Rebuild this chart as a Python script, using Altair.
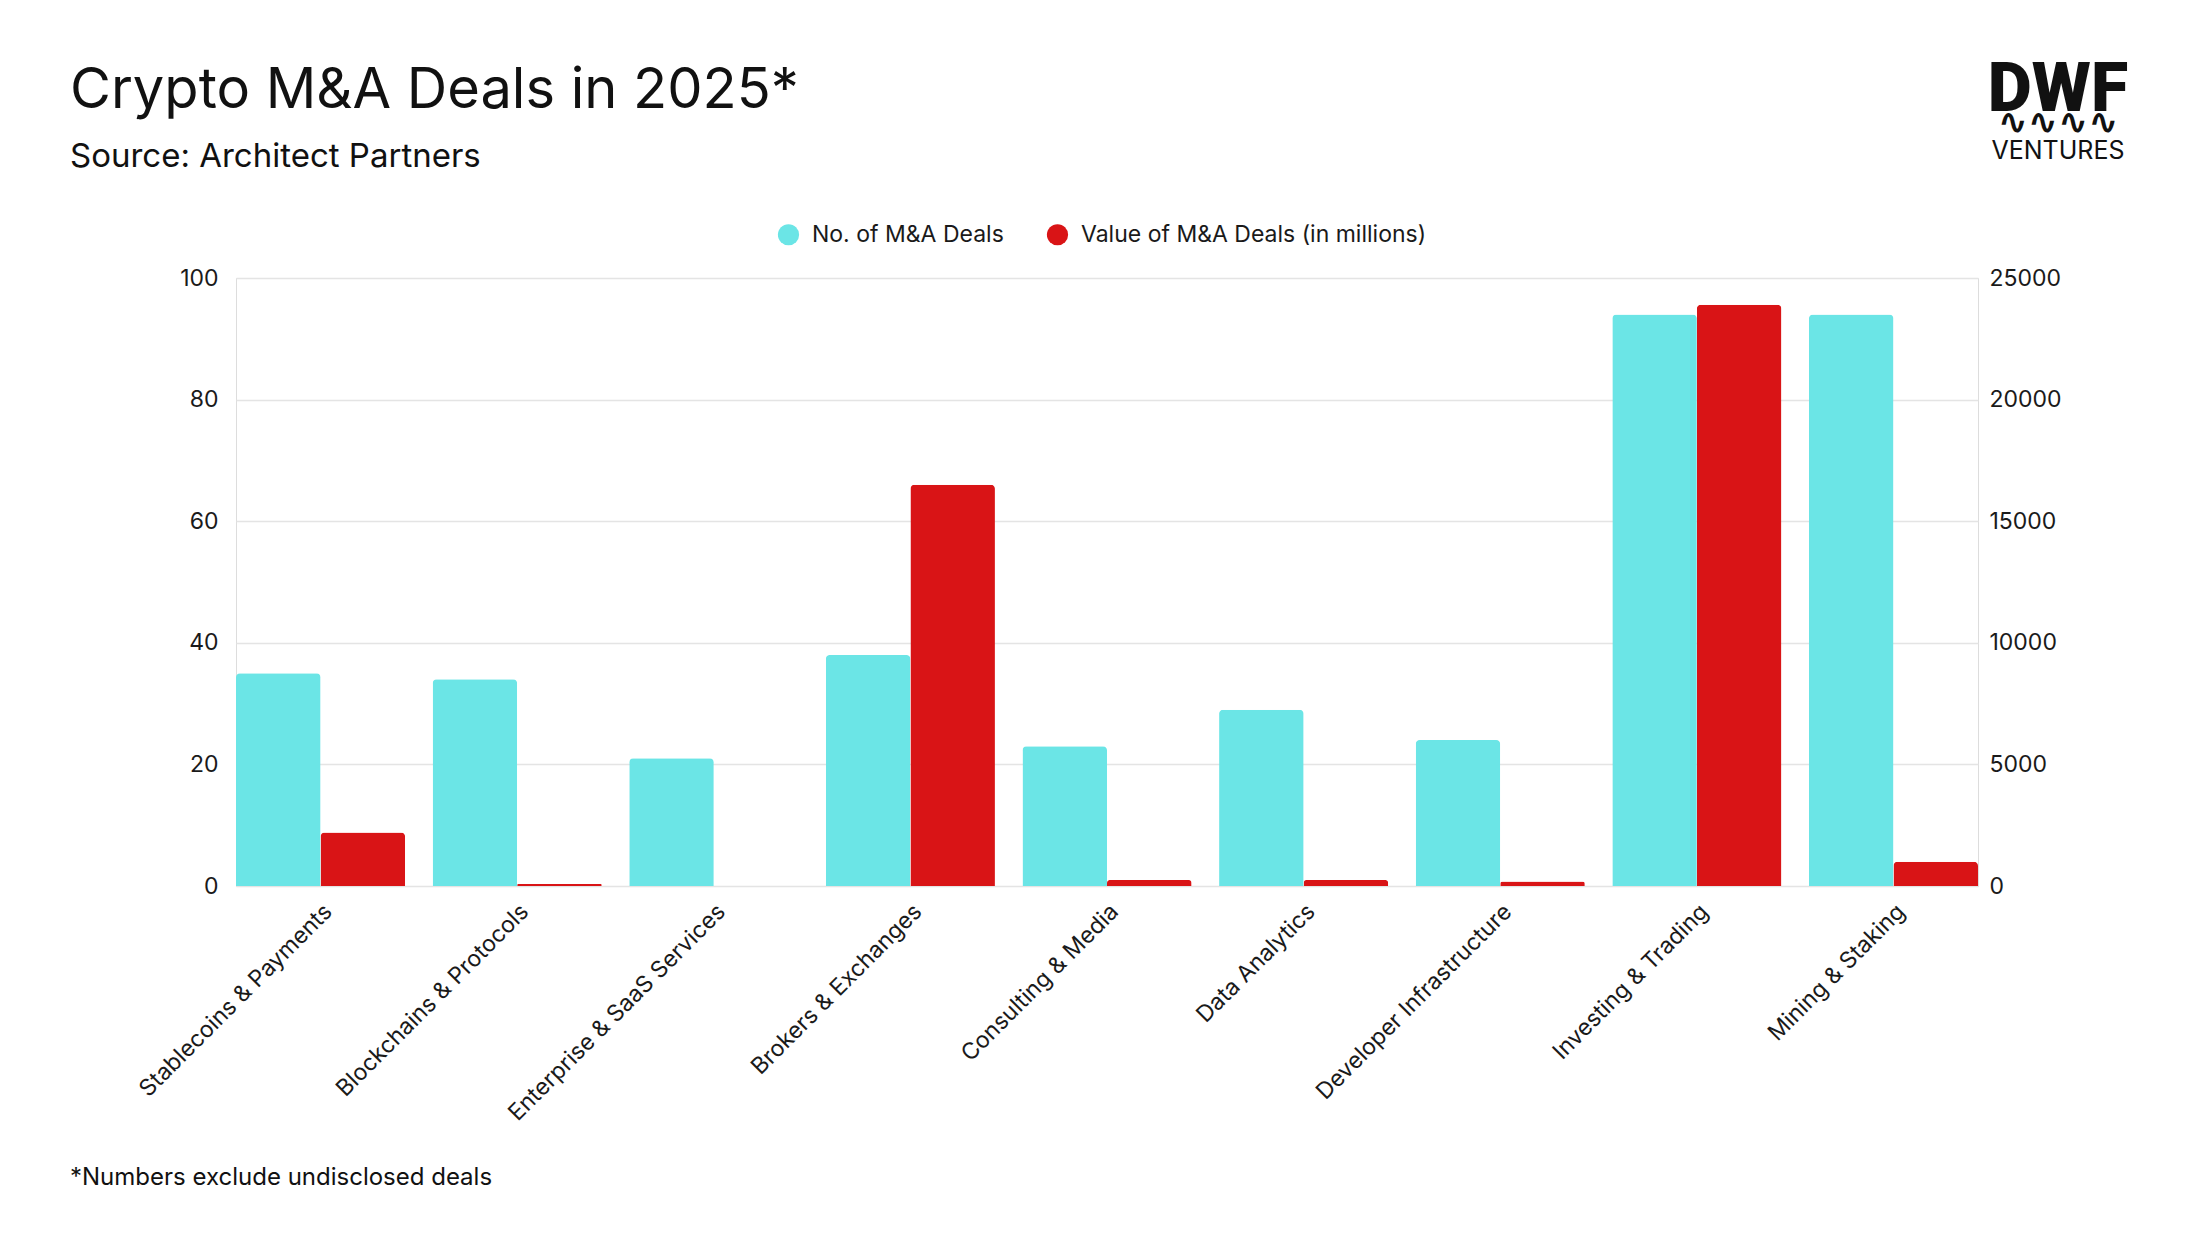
import altair as alt
import pandas as pd

categories = [
    "Stablecoins & Payments", "Blockchains & Protocols", "Enterprise & SaaS Services",
    "Brokers & Exchanges", "Consulting & Media", "Data Analytics",
    "Developer Infrastructure", "Investing & Trading", "Mining & Staking",
]
deal_counts = [35, 34, 21, 38, 23, 29, 24, 94, 94]
deal_values = [2200, 80, 0, 16500, 250, 250, 180, 23900, 1000]

series = ["No. of M&A Deals", "Value of M&A Deals (in millions)"]
series_colors = ["#6be5e6", "#d91416"]

count_ticks = [0, 20, 40, 60, 80, 100]
value_ticks = [0, 5000, 10000, 15000, 20000, 25000]

FONT = "Inter"

df = pd.DataFrame({
    "category": categories * 2,
    "series": [series[0]] * len(categories) + [series[1]] * len(categories),
    "value": deal_counts + deal_values,
})

x_enc = alt.X("category:N", sort=categories, title=None,
              scale=alt.Scale(paddingInner=0.14, paddingOuter=0),
              axis=alt.Axis(labelAngle=-45, labelFontSize=23, labelFont=FONT, labelColor="#1a1a1a",
                            labelPadding=14, ticks=False, domain=False, labelLimit=600))
off_enc = alt.XOffset("series:N", sort=series, scale=alt.Scale(paddingInner=0, paddingOuter=0))
color_enc = alt.Color("series:N", sort=series,
                      scale=alt.Scale(domain=series, range=series_colors),
                      legend=alt.Legend(title=None, orient="none", direction="horizontal",
                                        legendX=541, legendY=-55, symbolType="circle", symbolSize=450,
                                        symbolStrokeWidth=0, labelFontSize=23, labelFont=FONT,
                                        labelColor="#1a1a1a", labelOffset=12, labelLimit=1000,
                                        columnPadding=42, padding=0))

bar_style = dict(cornerRadiusTopLeft=4, cornerRadiusTopRight=4)

count_bars = alt.Chart(df).transform_filter(
    alt.datum.series == series[0]
).mark_bar(**bar_style).encode(
    x=x_enc, xOffset=off_enc, color=color_enc,
    y=alt.Y("value:Q", title=None, scale=alt.Scale(domain=[0, 100], nice=False),
            axis=alt.Axis(orient="left", values=count_ticks, labelFontSize=23, labelFont=FONT,
                          labelColor="#1a1a1a", labelPadding=18, ticks=False, domain=False,
                          gridColor="#e4e4e4", gridWidth=1.5)),
)

value_bars = alt.Chart(df).transform_filter(
    alt.datum.series == series[1]
).mark_bar(**bar_style).encode(
    x=x_enc, xOffset=off_enc, color=color_enc,
    y=alt.Y("value:Q", title=None, scale=alt.Scale(domain=[0, 25000], nice=False),
            axis=alt.Axis(orient="right", values=value_ticks, labelFontSize=23, labelFont=FONT,
                          labelColor="#1a1a1a", labelPadding=11, ticks=False, domain=False,
                          grid=False, format="d")),
)

# titles, footnote and logo
def label(text, x, y, size, weight="normal", font=FONT, align="left"):
    return alt.Chart(pd.DataFrame({"t": [text]})).mark_text(
        font=font, fontSize=size, fontWeight=weight, align=align, baseline="alphabetic", color="#111111"
    ).encode(text="t:N", x=alt.value(x), y=alt.value(y))

title = label("Crypto M&A Deals in 2025*", -166, -170, 56)
subtitle = label("Source: Architect Partners", -166, -111, 33)
footnote = label("*Numbers exclude undisclosed deals", -166, 907, 24)
logo_top = label("DWF", 1822, -167, 68, weight=900, font="Roboto", align="center")
logo_wave = label("∿∿∿∿", 1822, -144, 36, weight="bold", font="DejaVu Sans", align="center")
logo_bottom = label("VENTURES", 1822, -119, 25, align="center")

bars = alt.layer(count_bars, value_bars).resolve_scale(y="independent")

chart = alt.layer(
    bars, title, subtitle, footnote, logo_top, logo_wave, logo_bottom
).properties(
    width=1742, height=608,
    autosize=alt.AutoSizeParams(type="none"),
    padding={"left": 228, "top": 270, "right": 218, "bottom": 342},
).configure_view(stroke=None).configure(background="white")

chart.save("out.html", embed_options={"renderer": "svg", "actions": False})
